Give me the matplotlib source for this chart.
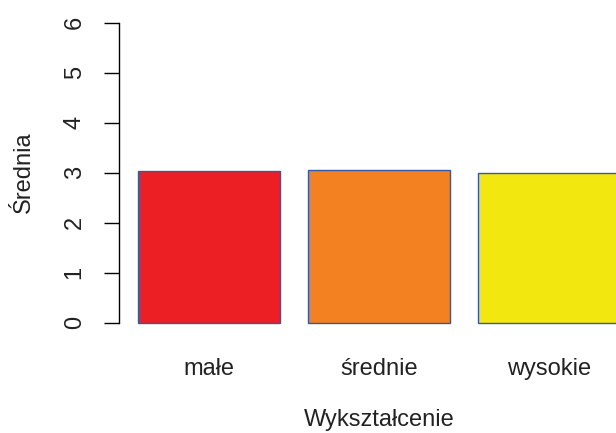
import matplotlib
matplotlib.use("Agg")
import matplotlib.pyplot as plt

# dane
kategorie = ["małe", "średnie", "wysokie"]
srednie = [3.03, 3.05, 2.99]
kolory = ["#EC2024", "#F38021", "#F2E70E"]
yticki = [0, 1, 2, 3, 4, 5, 6]

plt.rcParams["font.family"] = ["Liberation Sans", "DejaVu Sans"]
rozmiar = 17

fig = plt.figure(figsize=(6.16, 4.33), dpi=100)
# obszar wykresu jak w R (wychodzi poza prawą krawędź obrazka)
ax = fig.add_axes([119 / 616, 0.227, 520 / 616, 0.748])

# słupki jak w barplot(): szerokość 1, odstęp 0.2
pozycje = [0.2 + 1.2 * i + 0.5 for i in range(len(kategorie))]
ax.bar(pozycje, srednie, width=1.0, color=kolory,
       edgecolor="#3558A8", linewidth=1.0)

ax.set_xlim(0.064, 3.736)
ax.set_ylim(-0.24, 6.24)

for s in ["top", "right", "bottom"]:
    ax.spines[s].set_visible(False)
ax.spines["left"].set_bounds(0, 6)
ax.spines["left"].set_linewidth(1.0)

ax.set_yticks(yticki)
ax.set_yticklabels([str(v) for v in yticki], rotation=90, va="center",
                   fontsize=rozmiar, color="#222222")
ax.tick_params(axis="y", length=11, width=1.0, pad=13)

ax.set_xticks(pozycje)
ax.set_xticklabels(kategorie, fontsize=rozmiar, color="#222222")
ax.tick_params(axis="x", length=0, pad=17)

fig.text(379 / 616, 7 / 433, "Wykształcenie", ha="center", va="baseline",
         fontsize=rozmiar, color="#222222")
fig.text(24 / 616, (433 - 172) / 433, "Średnia", ha="center", va="center",
         rotation=90, fontsize=rozmiar, color="#222222")

fig.savefig("out.png", dpi=100)
